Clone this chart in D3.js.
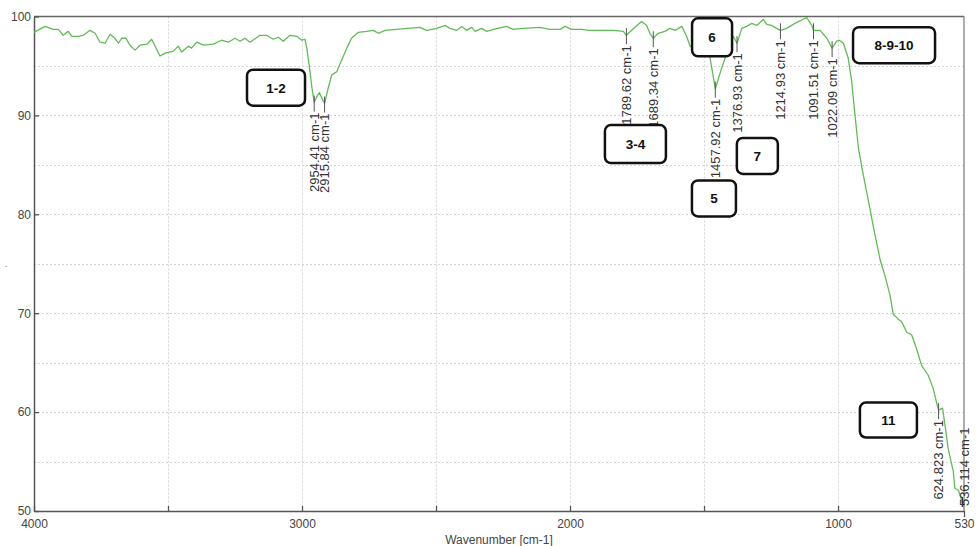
<!DOCTYPE html>
<html>
<head>
<meta charset="utf-8">
<script src="https://cdn.jsdelivr.net/npm/d3@7"></script>
<style>
  html, body { margin: 0; padding: 0; background: #fff; }
  svg { display: block; }
  text { font-family: "Liberation Sans", Arial, sans-serif; }
</style>
</head>
<body>
<svg id="chart" width="976" height="546"></svg>
<script>
// FTIR spectrum: wavenumber (cm-1) vs transmittance (%)
const wavenumber = [
  4000,3959,3928,3909,3891,3872,3859,3835,3816,3791,
  3772,3754,3735,3716,3698,3685,3673,3657,3642,3623,
  3604,3579,3561,3548,3530,3511,3480,3462,3449,3424,
  3412,3393,3368,3331,3300,3275,3250,3231,3213,3194,
  3157,3132,3107,3088,3070,3045,3020,3001,2989,2982,
  2970,2963,2954.41,2945,2935,2927,2915.84,2902,2889,2871,
  2852,2833,2815,2790,2759,2734,2715,2690,2647,2609,
  2560,2535,2497,2466,2448,2423,2404,2386,2367,2354,
  2330,2311,2286,2236,2212,2174,2112,2075,2037,2019,
  1994,1956,1932,1888,1838,1801,1789.62,1770,1733,1714,
  1702,1689.34,1671,1646,1627,1608,1583,1565,1552,1515,
  1485,1478,1457.92,1434,1415,1391,1376.93,1359,1341,1322,
  1303,1279,1266,1248,1229,1214.93,1192,1161,1117,1098,
  1091.51,1067,1042,1022.09,1005,995,980,962,949,937,
  924,906,887,868,843,825,806,794,775,762,
  744,725,707,688,663,645,630,624.823,610,601,
  589,570,564,551,539,536.114,530
];
const transmittance = [
  98.4,99.0,98.7,98.7,98.1,98.5,98.0,98.0,98.1,98.6,
  98.3,97.4,97.3,98.2,97.8,97.3,97.8,97.8,97.1,96.6,
  97.1,97.2,97.7,97.0,96.0,96.3,96.5,97.0,96.4,97.0,
  96.8,97.4,97.1,97.2,97.6,97.4,97.8,97.5,97.8,97.4,
  98.1,98.1,97.7,97.9,97.5,98.1,98.0,97.6,97.7,96.8,
  94.4,92.8,91.3,91.9,92.3,91.8,91.2,92.8,94.1,94.4,
  95.6,96.8,97.8,98.4,98.5,98.6,98.3,98.6,98.7,98.8,
  98.9,98.6,98.8,99.1,98.8,98.6,99.0,98.6,98.9,98.5,
  98.8,98.5,98.7,99.0,98.7,98.8,98.9,98.7,98.7,99.0,
  98.7,98.7,98.6,98.6,98.6,98.5,98.1,98.6,99.5,99.1,
  98.3,97.8,98.3,98.5,98.8,98.6,99.0,98.0,97.0,96.5,
  96.0,95.9,92.7,94.8,96.3,98.0,97.3,98.8,99.0,99.3,
  99.1,99.7,99.2,99.1,98.8,98.6,98.8,99.3,99.9,99.1,
  98.6,98.6,97.8,96.8,97.5,97.6,97.3,95.8,93.4,90.1,
  86.7,84.0,81.4,78.7,75.4,73.8,71.8,69.9,69.4,69.1,
  68.1,67.8,66.4,64.7,63.7,62.4,60.7,60.2,60.4,58.7,
  56.3,54.0,52.3,52.1,51.1,50.8,50.3
];

// Picked peaks and their labels
const peakPositions = [2954.41, 2915.84, 1789.62, 1689.34, 1457.92, 1376.93, 1214.93, 1091.51, 1022.09, 624.823, 536.114];
const peakLabels = ["2954.41 cm-1", "2915.84 cm-1", "1789.62 cm-1", "1689.34 cm-1", "1457.92 cm-1",
                    "1376.93 cm-1", "1214.93 cm-1", "1091.51 cm-1", "1022.09 cm-1", "624.823 cm-1", "536.114 cm-1"];

// Band group call-outs
const bandGroups = ["1-2", "3-4", "5", "6", "7", "8-9-10", "11"];

// Axis ticks
const xTickValues = [4000, 3500, 3000, 2500, 2000, 1500, 1000, 530];
const xTickLabels = [4000, 3000, 2000, 1000, 530];
const yTickValues = [50, 60, 70, 80, 90, 100];
const xGridValues = [3500, 3000, 2500, 2000, 1500, 1000];
const yGridValues = [55, 60, 65, 70, 75, 80, 85, 90, 95];
const xAxisTitle = "Wavenumber [cm-1]";

// ---- layout ----
const plot = { left: 34, right: 964, top: 16.5, bottom: 511 };
const svg = d3.select("#chart");

const x = d3.scaleLinear().domain([4000, 530]).range([plot.left, plot.right]);
const y = d3.scaleLinear().domain([50, 100]).range([plot.bottom, plot.top]);

// grid
const grid = svg.append("g").attr("stroke", "#d4d4d4").attr("stroke-width", 1).attr("stroke-dasharray", "2,2");
grid.selectAll("line.gx").data(xGridValues).join("line")
  .attr("x1", d => Math.round(x(d)) + 0.5).attr("x2", d => Math.round(x(d)) + 0.5)
  .attr("y1", plot.top).attr("y2", plot.bottom);
grid.selectAll("line.gy").data(yGridValues).join("line")
  .attr("x1", plot.left).attr("x2", plot.right)
  .attr("y1", d => Math.round(y(d)) + 0.5).attr("y2", d => Math.round(y(d)) + 0.5);

// frame (top and right)
svg.append("line").attr("x1", plot.left).attr("x2", plot.right).attr("y1", plot.top).attr("y2", plot.top)
  .attr("stroke", "#666").attr("stroke-width", 1.5);
svg.append("line").attr("x1", plot.right).attr("x2", plot.right).attr("y1", plot.top).attr("y2", plot.bottom)
  .attr("stroke", "#777").attr("stroke-width", 1.2);

// x axis
const xAxis = d3.axisBottom(x)
  .tickValues(xTickValues)
  .tickSizeInner(-5).tickSizeOuter(0).tickPadding(8)
  .tickFormat(d => xTickLabels.includes(d) ? String(d) : "");
const gx = svg.append("g").attr("transform", `translate(0,${plot.bottom})`).call(xAxis);
gx.select(".domain").attr("stroke", "#555").attr("stroke-width", 1.5);
gx.selectAll(".tick line").attr("stroke", "#555").attr("stroke-width", 1.3)
  .filter(d => d === 530).attr("y2", 6);
gx.selectAll(".tick text").attr("fill", "#444").style("font-size", "12px").style("font-family", "'Liberation Sans', Arial, sans-serif");

// y axis
const yAxis = d3.axisLeft(y)
  .tickValues(yTickValues)
  .tickSizeInner(-5).tickSizeOuter(0).tickPadding(3)
  .tickFormat(d3.format("d"));
const gy = svg.append("g").attr("transform", `translate(${plot.left},0)`).call(yAxis);
gy.select(".domain").attr("stroke", "#555").attr("stroke-width", 1.5);
gy.selectAll(".tick line").attr("stroke", "#555").attr("stroke-width", 1.3);
gy.selectAll(".tick text").attr("fill", "#444").style("font-size", "12px").style("font-family", "'Liberation Sans', Arial, sans-serif");

// axis titles
svg.append("text").attr("x", 499).attr("y", 544).attr("text-anchor", "middle")
  .attr("fill", "#444").style("font-size", "12px").text(xAxisTitle);
svg.append("text").attr("x", 6).attr("y", 267).attr("text-anchor", "middle")
  .attr("fill", "#666").style("font-size", "9px").text(".");

// spectrum
const spectrum = wavenumber.map((w, i) => ({ w, t: transmittance[i] }));
svg.append("defs").append("clipPath").attr("id", "plotClip")
  .append("rect").attr("x", plot.left).attr("y", plot.top - 2)
  .attr("width", plot.right - plot.left).attr("height", plot.bottom - plot.top + 2);
svg.append("path")
  .datum(spectrum)
  .attr("clip-path", "url(#plotClip)")
  .attr("fill", "none")
  .attr("stroke", "#62bb58")
  .attr("stroke-width", 1.3)
  .attr("stroke-linejoin", "round")
  .attr("d", d3.line().x(d => x(d.w)).y(d => y(d.t)));

// peak markers
const fontSize = 13;
const peaks = peakPositions.map((p, i) => {
  const idx = wavenumber.findIndex(w => Math.abs(w - p) < 0.01);
  return { w: p, t: transmittance[idx], label: peakLabels[i] };
});
const pk = svg.append("g");
peaks.forEach(p => {
  const px = x(p.w), py = y(p.t);
  const g = pk.append("g");
  const txt = g.append("text")
    .attr("fill", "#333")
    .style("font-size", fontSize + "px")
    .attr("dy", "0.36em")
    .text(p.label);
  const len = txt.node().getComputedTextLength();
  const downward = py + 10 + len <= plot.bottom;
  if (downward) {
    g.append("line").attr("x1", px).attr("x2", px).attr("y1", py - 7).attr("y2", py + 9)
      .attr("stroke", "#555").attr("stroke-width", 1);
    txt.attr("text-anchor", "end")
      .attr("transform", `translate(${px},${py + 10}) rotate(-90)`);
  } else {
    g.append("line").attr("x1", px).attr("x2", px).attr("y1", py - 6).attr("y2", py + 4)
      .attr("stroke", "#333").attr("stroke-width", 1.2);
    txt.attr("text-anchor", "start")
      .attr("transform", `translate(${px + 2},${py + 3}) rotate(-90)`);
  }
});

// band group call-out boxes, centred at spectrum coordinates
const boxLayout = [
  { w: 3097, t: 92.8, bw: 58, bh: 36 },
  { w: 1756, t: 87.1, bw: 61, bh: 38 },
  { w: 1463, t: 81.6, bw: 44, bh: 36 },
  { w: 1470, t: 97.9, bw: 40, bh: 38 },
  { w: 1301, t: 85.9, bw: 41, bh: 36 },
  { w: 791,  t: 97.1, bw: 82, bh: 36 },
  { w: 812,  t: 59.2, bw: 57, bh: 35 }
];
const boxes = svg.append("g");
bandGroups.forEach((name, i) => {
  const b = boxLayout[i];
  const cx = x(b.w), cy = y(b.t);
  boxes.append("rect")
    .attr("x", cx - b.bw / 2).attr("y", cy - b.bh / 2)
    .attr("width", b.bw).attr("height", b.bh)
    .attr("rx", 6).attr("ry", 6)
    .attr("fill", "#fff").attr("stroke", "#111").attr("stroke-width", 2.5);
  boxes.append("text")
    .attr("x", cx).attr("y", cy).attr("dy", "0.36em")
    .attr("text-anchor", "middle")
    .attr("fill", "#111")
    .style("font-size", "13.5px").style("font-weight", "bold")
    .text(name);
});
</script>
</body>
</html>
